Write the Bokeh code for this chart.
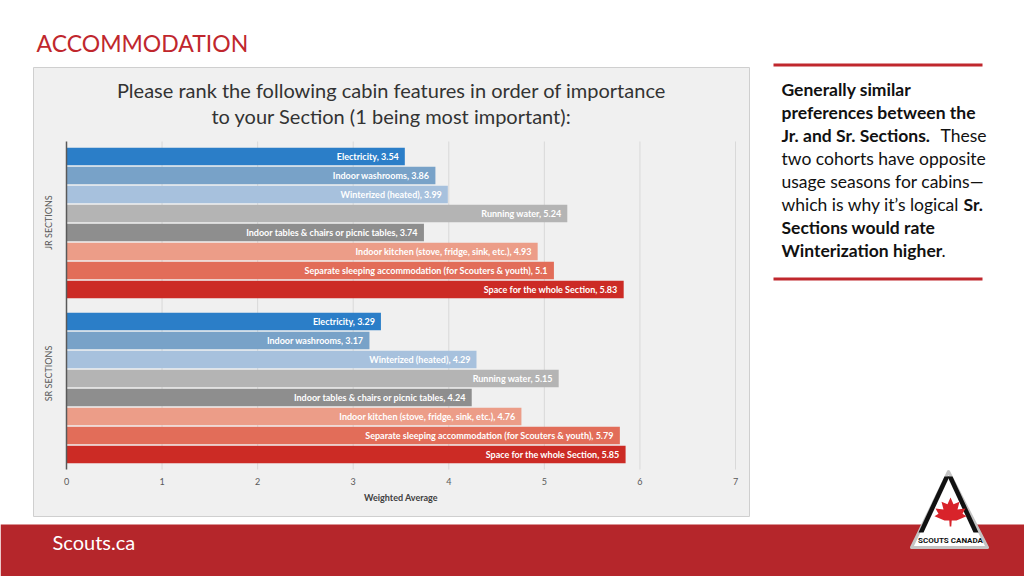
import math
from bokeh.plotting import figure
from bokeh.models import (ColumnDataSource, Range1d, FixedTicker, LinearAxis)
from bokeh.core.properties import value
from bokeh.embed import file_html
from bokeh.resources import INLINE

# ---------------- data ----------------
features = [
    "Electricity",
    "Indoor washrooms",
    "Winterized (heated)",
    "Running water",
    "Indoor tables & chairs or picnic tables",
    "Indoor kitchen (stove, fridge, sink, etc.)",
    "Separate sleeping accommodation (for Scouters & youth)",
    "Space for the whole Section",
]
jr_values = [3.54, 3.86, 3.99, 5.24, 3.74, 4.93, 5.1, 5.83]
sr_values = [3.29, 3.17, 4.29, 5.15, 4.24, 4.76, 5.79, 5.85]
group_names = ["JR SECTIONS", "SR SECTIONS"]
x_ticks = [0, 1, 2, 3, 4, 5, 6, 7]
x_label = "Weighted Average"
slide_title = "ACCOMMODATION"
chart_title = ["Please rank the following cabin features in order of importance",
               "to your Section (1 being most important):"]
footer_text = "Scouts.ca"
logo_text = "SCOUTS CANADA"
note_rows = [
    [("Generally similar", True)],
    [("preferences between the", True)],
    [("Jr. and Sr. Sections.", True), ("These", False)],
    [("two cohorts have opposite", False)],
    [("usage seasons for cabins\u2014", False)],
    [("which is why it\u2019s logical", False), ("Sr.", True)],
    [("Sections would rate", True)],
    [("Winterization higher", True), (".", False)],
]

# ---------------- styles / layout (page pixels) ----------------
bar_colors = ["#2b7ec8", "#78a2c8", "#a7c1dd", "#b4b4b4", "#8e8e8e",
              "#ec9d88", "#e26d59", "#cc2b25"]
RED = "#c0272d"
FONT = "Lato"
W, H = 1024, 576
PX0, PX7 = 66, 735          # pixel of value 0 and 7
CH_TOP, CH_BOT = 141, 469   # chart plot area vertical extent
ROW0, ROW_H = 156, 19       # first bar centre, row pitch
GAP = 1.684                 # extra rows between the two groups
note_seg_x = {2: 940, 5: 963, 7: 941}

n = len(features)
ys, vals, texts, cols = [], [], [], []
for g, values in enumerate([jr_values, sr_values]):
    for k, (f, v) in enumerate(zip(features, values)):
        ys.append(g * (n - 1 + GAP) + k)
        vals.append(v)
        texts.append(f"{f}, {v}")
        cols.append(bar_colors[k])
src = ColumnDataSource(dict(y=ys, v=vals, t=texts, c=cols))

p = figure(width=W, height=H, x_range=Range1d(0, W), y_range=Range1d(H, 0),
           output_backend="svg", toolbar_location=None,
           x_axis_location=None, y_axis_location=None, min_border=0)
p.background_fill_color = "white"
p.border_fill_color = "white"
p.outline_line_color = None
p.grid.visible = False

ppu = (PX7 - PX0) / 7.0
p.extra_x_ranges = {"v": Range1d(-PX0 / ppu, 7 + (W - PX7) / ppu)}
p.extra_y_ranges = {"c": Range1d((H - ROW0) / ROW_H, (0 - ROW0) / ROW_H)}

# slide furniture
p.quad(left=[33], right=[749], top=[67], bottom=[516], fill_color="#f0f0f0",
       line_color="#cfcfcf", line_width=1)
p.quad(left=[0], right=[W], top=[524], bottom=[H], fill_color="#b5262b", line_color=None)
p.quad(left=[773, 773], right=[982, 982], top=[63, 277], bottom=[66, 280],
       fill_color=RED, line_color=None)

# chart: gridlines, bars, labels
p.segment(x0=x_ticks[1:], x1=x_ticks[1:], y0=CH_TOP, y1=CH_BOT, x_range_name="v",
          line_color="#d9d9d9", line_width=1)
p.hbar(y="y", left=0, right="v", height=0.92, fill_color="c", line_color=None,
       source=src, x_range_name="v", y_range_name="c")
p.segment(x0=x_ticks[0], x1=x_ticks[0], y0=CH_TOP, y1=CH_BOT, x_range_name="v",
          line_color="#595959", line_width=1.5)
p.text(x="v", y="y", text="t", x_offset=-6, text_align="right", text_baseline="middle",
       text_font=value(FONT), text_font_style="bold", text_font_size="9px",
       text_color="white", source=src, x_range_name="v", y_range_name="c")

ax = LinearAxis(x_range_name="v", fixed_location=CH_BOT, ticker=FixedTicker(ticks=x_ticks),
                bounds=(x_ticks[0], x_ticks[-1]))
ax.axis_line_color = None
ax.major_tick_line_color = None
ax.minor_tick_line_color = None
ax.major_tick_in = 0
ax.major_tick_out = 0
ax.major_label_standoff = 8
ax.major_label_text_font = FONT
ax.major_label_text_font_size = "9px"
ax.major_label_text_color = "#595959"
ax.axis_label = x_label
ax.axis_label_standoff = 4
ax.axis_label_text_font = FONT
ax.axis_label_text_font_size = "9px"
ax.axis_label_text_font_style = "bold"
ax.axis_label_text_color = "#404040"
p.add_layout(ax, "below")

p.text(x=[48, 48], y=[222, 373], text=group_names, angle=math.pi / 2,
       text_align="center", text_baseline="middle", text_font=value(FONT),
       text_font_size="9px", text_color="#595959")

# titles and notes
p.text(x=[36], y=[42.5], text=[slide_title], text_font=value(FONT), text_font_size="23px",
       text_color=RED, text_baseline="middle")
p.text(x=[391, 391], y=[89, 115], text=chart_title, text_align="center",
       text_baseline="middle", text_font=value(FONT), text_font_size="20px",
       text_color="#333333")
nx, ny, nt, ns = [], [], [], []
for i, row in enumerate(note_rows):
    for j, (txt, bold) in enumerate(row):
        nx.append(781 if j == 0 else note_seg_x[i])
        ny.append(89.2 + 22.9 * i)
        nt.append(txt)
        ns.append("bold" if bold else "normal")
p.text(x="x", y="y", text="t", text_font_style="s",
       source=ColumnDataSource(dict(x=nx, y=ny, t=nt, s=ns)),
       text_font=value(FONT), text_font_size="17.5px", text_color="#111111",
       text_baseline="middle")
p.text(x=[52], y=[541], text=[footer_text], text_font=value(FONT), text_font_size="20px",
       text_color="white", text_baseline="middle")

# logo
p.patch(x=[948, 987, 911], y=[471, 547, 547], fill_color="white", line_color="#c4c4c4",
        line_width=3, line_join="round")
p.patch(x=[944, 949, 923, 918], y=[476, 476, 532, 532], fill_color="#111111", line_color=None)
p.patch(x=[947, 952, 978, 973], y=[476, 476, 532, 532], fill_color="#111111", line_color=None)
leaf = [(0, 1.0), (0.15, 0.6), (0.45, 0.75), (0.35, 0.3), (0.75, 0.35), (0.6, 0.05), (0.8, -0.1),
        (0.3, -0.35), (0.06, -0.35), (0.04, -0.7), (-0.04, -0.7), (-0.06, -0.35), (-0.3, -0.35),
        (-0.8, -0.1), (-0.6, 0.05), (-0.75, 0.35), (-0.35, 0.3), (-0.45, 0.75), (-0.15, 0.6)]
p.patch(x=[950 + 20 * a for a, b in leaf], y=[514 - 17 * b for a, b in leaf],
        fill_color="#d8232a", line_color=None)
p.text(x=[950], y=[540], text=[logo_text], text_align="center", text_baseline="middle",
       text_font=value("Roboto"), text_font_style="bold", text_font_size="8px",
       text_color="#111111")

open("out.html", "w").write(file_html(p, INLINE))
